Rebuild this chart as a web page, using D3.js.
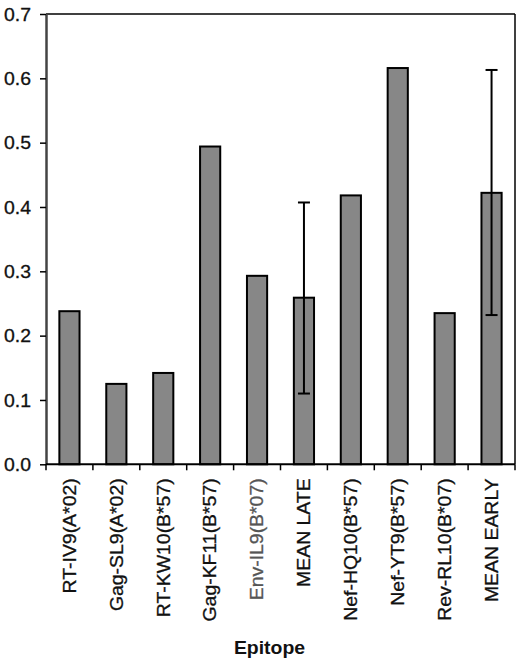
<!DOCTYPE html>
<html><head><meta charset="utf-8">
<script src="https://cdn.jsdelivr.net/npm/d3@7"></script>
<style>body{margin:0;background:#fff}svg{display:block}text{font-family:"Liberation Sans",Arial,sans-serif}</style>
</head><body>
<svg id="c" width="520" height="660"></svg>
<script>
const categories = ["RT-IV9(A*02)","Gag-SL9(A*02)","RT-KW10(B*57)","Gag-KF11(B*57)","Env-IL9(B*07)","MEAN LATE","Nef-HQ10(B*57)","Nef-YT9(B*57)","Rev-RL10(B*07)","MEAN EARLY"];
const values = [0.238,0.125,0.142,0.494,0.293,0.259,0.418,0.616,0.235,0.422];
const errLow = [null,null,null,null,null,0.110,null,null,null,0.232];
const errHigh = [null,null,null,null,null,0.407,null,null,null,0.613];
const yTicks = [0,0.1,0.2,0.3,0.4,0.5,0.6,0.7];
const xTitle = "Epitope";

const svg = d3.select("#c");
const L = 46, R = 515, T = 14, B = 464.3;
const sx = 1.08, fs = 18;
const x = d3.scaleBand().domain(categories).range([L,R]).paddingInner(0.57).paddingOuter(0.285);
const y = d3.scaleLinear().domain([0,0.7]).range([B,T]);

// frame top & right
svg.append("line").attr("x1",L).attr("x2",R).attr("y1",T).attr("y2",T).attr("stroke","#000").attr("stroke-width",1.5);
svg.append("line").attr("x1",R).attr("x2",R).attr("y1",T).attr("y2",B).attr("stroke","#000").attr("stroke-width",1.5);

// bars
svg.selectAll("rect.bar").data(categories).join("rect")
  .attr("x",d=>x(d)).attr("width",x.bandwidth())
  .attr("y",(d,i)=>y(values[i])).attr("height",(d,i)=>B-y(values[i]))
  .attr("fill","#878787").attr("stroke","#000").attr("stroke-width",2);

// error bars
categories.forEach((c,i)=>{
  if(errLow[i]==null) return;
  const cx = x(c)+x.bandwidth()/2;
  const g = svg.append("g").attr("stroke","#000").attr("stroke-width",2);
  g.append("line").attr("x1",cx).attr("x2",cx).attr("y1",y(errLow[i])).attr("y2",y(errHigh[i]));
  [errLow[i],errHigh[i]].forEach(v=>g.append("line").attr("x1",cx-6).attr("x2",cx+6).attr("y1",y(v)).attr("y2",y(v)));
});

// y axis
const ya = svg.append("g").attr("transform",`translate(${L},0)`)
  .call(d3.axisLeft(y).tickValues(yTicks).tickFormat(d3.format(".1f")).tickSize(6).tickSizeOuter(0));
ya.select(".domain").attr("stroke","#444").attr("stroke-width",2.5);
ya.selectAll(".tick line").attr("stroke","#000").attr("stroke-width",1.5);
ya.selectAll(".tick text").attr("font-size",fs).attr("fill","#111").attr("x",0).attr("dy","0.34em")
  .attr("stroke","#111").attr("stroke-width",0.3)
  .attr("text-anchor","end").attr("transform",`translate(-15,0) scale(${sx},1)`);

// x axis
svg.append("line").attr("x1",L).attr("x2",R).attr("y1",B).attr("y2",B).attr("stroke","#000").attr("stroke-width",2);
d3.range(categories.length+1).forEach(k=>{
  const tx = L + k*(R-L)/categories.length;
  svg.append("line").attr("x1",tx).attr("x2",tx).attr("y1",B).attr("y2",B+6).attr("stroke","#000").attr("stroke-width",1.5);
});
svg.selectAll("text.xl").data(categories).join("text")
  .attr("class","xl")
  .attr("transform",d=>`translate(${x(d)+x.bandwidth()/2},${B+14}) rotate(-90) scale(${sx},1)`)
  .attr("text-anchor","end").attr("dy","0.35em").attr("font-size",fs)
  .attr("fill",(d,i)=> i===4 ? "#555" : "#111")
  .attr("stroke",(d,i)=> i===4 ? "#555" : "#111").attr("stroke-width",0.3)
  .text(d=>d);

svg.append("text").attr("transform",`translate(${(L+R)/2 - 11},654) scale(${sx},1)`)
  .attr("text-anchor","middle").attr("font-size",fs).attr("font-weight","bold").attr("fill","#111").text(xTitle);
</script>
</body></html>
